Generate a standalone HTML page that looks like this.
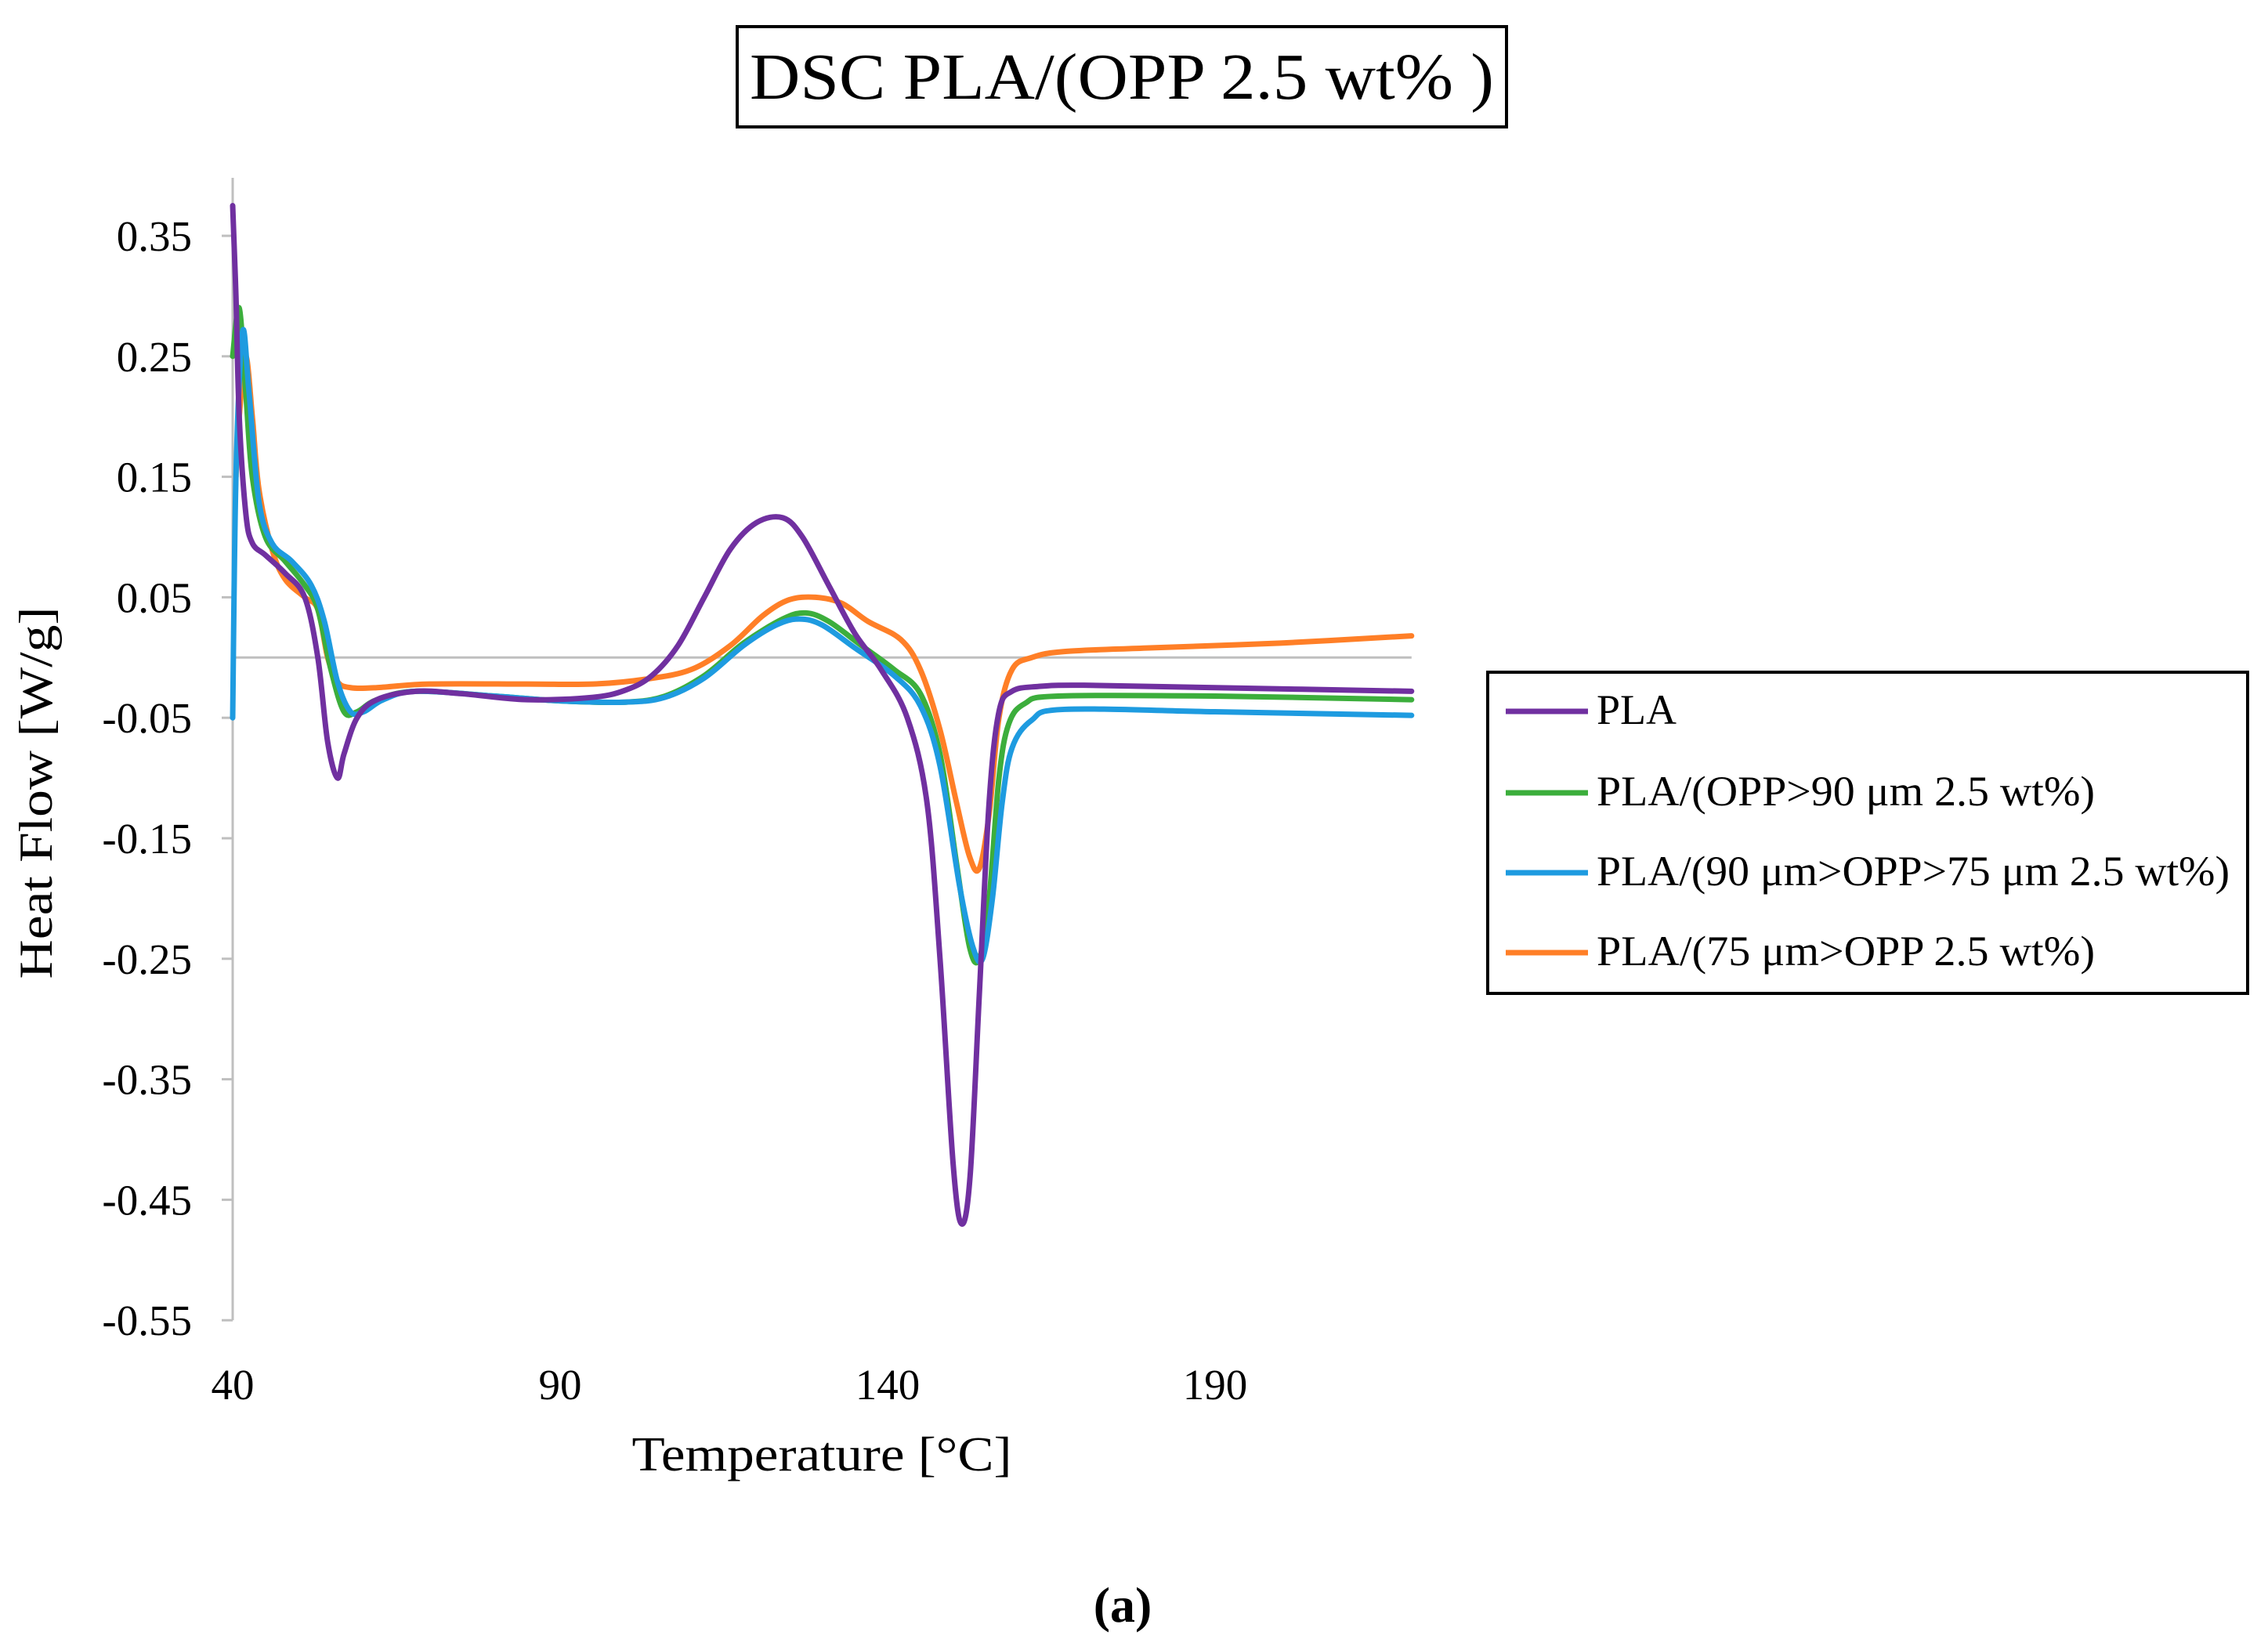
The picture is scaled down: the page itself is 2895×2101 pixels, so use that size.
<!DOCTYPE html>
<html><head><meta charset="utf-8"><style>
html,body{margin:0;padding:0;background:#fff;}
svg{display:block;font-family:"Liberation Serif",serif;}
</style></head><body>
<svg id="chart" width="2895" height="2101" viewBox="0 0 2895 2101" xmlns="http://www.w3.org/2000/svg">
<rect x="941" y="34" width="982" height="128" fill="#fff" stroke="#000" stroke-width="4"/>
<text x="1432" y="126" font-size="84" text-anchor="middle" textLength="950" lengthAdjust="spacingAndGlyphs">DSC PLA/(OPP 2.5 wt% )</text>
<g id="axes"></g>
<g id="series"></g>
<text transform="translate(66,1012) rotate(-90)" font-size="60" text-anchor="middle" textLength="475" lengthAdjust="spacingAndGlyphs">Heat Flow [W/g]</text>
<text x="1049" y="1877" font-size="62" text-anchor="middle" textLength="485" lengthAdjust="spacingAndGlyphs">Temperature [°C]</text>
<text x="1433" y="2070" font-size="64" font-weight="bold" text-anchor="middle">(a)</text>
<g>
<rect x="1899" y="858" width="970" height="410" fill="#fff" stroke="#000" stroke-width="4"/>
<line x1="1922" y1="908" x2="2027" y2="908" stroke="#7030a0" stroke-width="7"/>
<text x="2038" y="924" font-size="54">PLA</text>
<line x1="1922" y1="1012" x2="2027" y2="1012" stroke="#3cae3c" stroke-width="7"/>
<text x="2038" y="1028" font-size="54" textLength="636" lengthAdjust="spacingAndGlyphs">PLA/(OPP&gt;90 μm 2.5 wt%)</text>
<line x1="1922" y1="1114" x2="2027" y2="1114" stroke="#1e9be0" stroke-width="7"/>
<text x="2038" y="1130" font-size="54" textLength="808" lengthAdjust="spacingAndGlyphs">PLA/(90 μm&gt;OPP&gt;75 μm 2.5 wt%)</text>
<line x1="1922" y1="1216" x2="2027" y2="1216" stroke="#ff7f27" stroke-width="7"/>
<text x="2038" y="1232" font-size="54" textLength="636" lengthAdjust="spacingAndGlyphs">PLA/(75 μm&gt;OPP 2.5 wt%)</text>
</g>
</svg>
<script>
const xTicks = [40, 90, 140, 190];
const yTicks = [0.35, 0.25, 0.15, 0.05, -0.05, -0.15, -0.25, -0.35, -0.45, -0.55];
const yTickLabels = ["0.35","0.25","0.15","0.05","-0.05","-0.15","-0.25","-0.35","-0.45","-0.55"];
const plaT = [40,40.5,41,42,43,45,48,51,53,54.5,56,57,59,62,68,75,85,95,100,104,108,112,116,120,124,127,131,135,139,143,146,148,150,151.3,152.6,154,155.5,157,159,163,170,190,220];
const plaY = [0.375,0.30,0.2,0.12,0.095,0.085,0.07,0.05,0.0,-0.07,-0.10,-0.08,-0.05,-0.035,-0.028,-0.03,-0.035,-0.033,-0.027,-0.015,0.01,0.05,0.09,0.112,0.116,0.1,0.06,0.02,-0.01,-0.05,-0.12,-0.25,-0.42,-0.47,-0.43,-0.28,-0.12,-0.045,-0.028,-0.024,-0.023,-0.025,-0.028];
const opp90T = [40,41,42,43,45,48,51,53,55,57,59,62,68,80,90,100,106,112,118,124,127.5,131,136,141,145,148,150.5,152.5,154,155.5,157,158.5,161,166,190,220];
const opp90Y = [0.25,0.29,0.22,0.15,0.1,0.08,0.06,0.04,-0.01,-0.045,-0.045,-0.035,-0.028,-0.032,-0.036,-0.037,-0.032,-0.015,0.012,0.032,0.037,0.03,0.01,-0.01,-0.03,-0.08,-0.17,-0.24,-0.25,-0.2,-0.1,-0.055,-0.038,-0.032,-0.032,-0.035];
const opp9075T = [40,40.5,41.5,42.5,44,46,49,52,54,56,58,60,63,68,80,90,100,106,112,118,123,126.5,130,135,141,145,148,151,153,154.5,156,157.5,159,162,167,190,220];
const opp9075Y = [-0.05,0.15,0.27,0.22,0.13,0.095,0.08,0.06,0.03,-0.02,-0.045,-0.045,-0.035,-0.028,-0.032,-0.036,-0.037,-0.033,-0.017,0.01,0.027,0.032,0.027,0.008,-0.015,-0.04,-0.09,-0.19,-0.24,-0.25,-0.2,-0.12,-0.075,-0.052,-0.043,-0.045,-0.048];
const opp75T = [40.5,41,42,43,44,46,48,51,53,54.5,56,58,62,70,85,95,103,110,116,121,125,129,133,137,142,145,148,150.5,152.5,154,155.5,157,159,162,167,180,200,220];
const opp75Y = [0.15,0.2,0.25,0.2,0.14,0.09,0.065,0.05,0.04,0.0,-0.02,-0.025,-0.025,-0.022,-0.022,-0.022,-0.018,-0.01,0.01,0.035,0.048,0.05,0.045,0.03,0.015,-0.01,-0.06,-0.12,-0.165,-0.175,-0.13,-0.05,-0.01,0.0,0.005,0.008,0.012,0.018];

const NS = "http://www.w3.org/2000/svg";
const X0 = 297, PX_PER_DEG = 418/50;
const Y0 = 301, PX_PER_UNIT = 1538;
function xs(t){ return X0 + (t-40)*PX_PER_DEG; }
function ys(v){ return Y0 + (0.35-v)*PX_PER_UNIT; }
const axes = document.getElementById('axes');
function mk(tag, attrs, parent){ const e=document.createElementNS(NS,tag); for(const k in attrs) e.setAttribute(k,attrs[k]); parent.appendChild(e); return e; }
const yAxis = mk('line',{x1:X0,y1:227,x2:X0,y2:ys(-0.55),stroke:'#bfbfbf','stroke-width':3},axes);


const zero = mk('line',{x1:X0,y1:ys(0),x2:xs(220),y2:ys(0),stroke:'#bfbfbf','stroke-width':3},axes);


yTicks.forEach((v,i)=>{
  const tk = mk('line',{x1:X0-14,y1:ys(v),x2:X0,y2:ys(v),stroke:'#bfbfbf','stroke-width':3},axes);
  
  
  const tx = mk('text',{x:245,y:ys(v)+19,'font-size':55,'text-anchor':'end'},axes);
  
  
  tx.textContent = yTickLabels[i];
});
xTicks.forEach(t=>{
  const tx = mk('text',{x:xs(t),y:1786,'font-size':55,'text-anchor':'middle'},axes);
  
  
  tx.textContent = String(t);
});
const sg = document.getElementById('series');
function draw(T,Y,color,name){
  const pts = T.map((t,i)=>[xs(t),ys(Y[i])]);
  let d = 'M'+pts[0][0]+','+pts[0][1];
  for(let i=0;i<pts.length-1;i++){
    const p0=pts[i-1]||pts[i], p1=pts[i], p2=pts[i+1], p3=pts[i+2]||p2;
    const c1x=p1[0]+(p2[0]-p0[0])/6, c1y=p1[1]+(p2[1]-p0[1])/6;
    const c2x=p2[0]-(p3[0]-p1[0])/6, c2y=p2[1]-(p3[1]-p1[1])/6;
    d+=' C'+c1x+','+c1y+' '+c2x+','+c2y+' '+p2[0]+','+p2[1];
  }
  const p = mk('path',{d:d,fill:'none',stroke:color,'stroke-width':7,'stroke-linejoin':'round','stroke-linecap':'round'},sg);
  
  
}
draw(opp75T,opp75Y,'#ff7f27','series-opp75-line');
draw(opp90T,opp90Y,'#3cae3c','series-opp90-line');
draw(opp9075T,opp9075Y,'#1e9be0','series-opp90-75-line');
draw(plaT,plaY,'#7030a0','series-pla-line');
</script>
</body></html>
